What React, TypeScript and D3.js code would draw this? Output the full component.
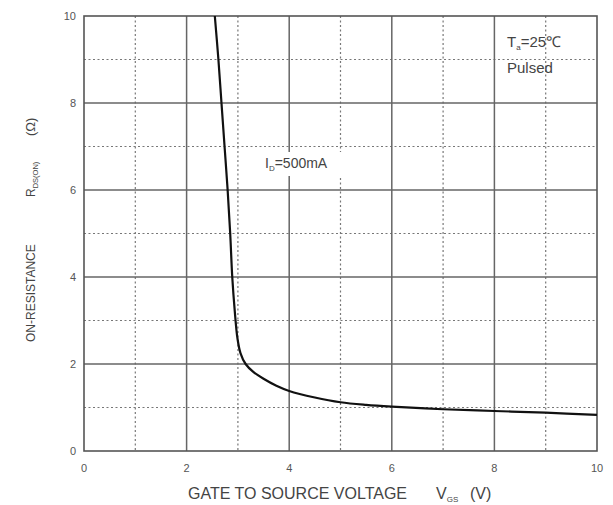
import React from "react";
import * as d3 from "d3";

const xTicks = [0, 2, 4, 6, 8, 10];
const yTicks = [0, 2, 4, 6, 8, 10];
const xMinor = [1, 3, 5, 7, 9];
const yMinor = [1, 3, 5, 7, 9];
const vgs = [2.55, 2.62, 2.68, 2.74, 2.8, 2.85, 2.89, 2.94, 2.99, 3.05, 3.15, 3.3, 3.5, 3.75, 4, 4.5, 5, 5.5, 6, 7, 8, 9, 10];
const rds = [10, 9, 8, 7, 6, 5, 4, 3.2, 2.6, 2.25, 2.0, 1.82, 1.66, 1.5, 1.38, 1.23, 1.12, 1.06, 1.02, 0.96, 0.92, 0.88, 0.83];

const W = 613, H = 505;
const L = 84, R = 597, T = 16, B = 451;

export default function App() {
  const x = d3.scaleLinear().domain([0, 10]).range([L, R]);
  const y = d3.scaleLinear().domain([0, 10]).range([B, T]);
  const pts: [number, number][] = vgs.map((v, i) => [v, rds[i]]);
  const line = d3.line<[number, number]>().x(d => x(d[0])).y(d => y(d[1])).curve(d3.curveCatmullRom.alpha(0.5));
  const font = "'Liberation Sans', Arial, sans-serif";
  const txt = "#444";
  return (
    <svg width={W} height={H} style={{ position: "absolute", left: 0, top: 0, background: "#fff" }} fontFamily={font}>
      <rect x={0} y={0} width={W} height={H} fill="#fff" />
      {xMinor.map(v => (
        <line key={"xm" + v} x1={x(v)} x2={x(v)} y1={T} y2={B} stroke="#777" strokeWidth={1.2} strokeDasharray="2,2.5" />
      ))}
      {yMinor.map(v => (
        <line key={"ym" + v} x1={L} x2={R} y1={y(v)} y2={y(v)} stroke="#777" strokeWidth={1.2} strokeDasharray="2,2.5" />
      ))}
      {xTicks.slice(1, -1).map(v => (
        <line key={"xg" + v} x1={x(v)} x2={x(v)} y1={T} y2={B} stroke="#666" strokeWidth={1.5} />
      ))}
      {yTicks.slice(1, -1).map(v => (
        <line key={"yg" + v} x1={L} x2={R} y1={y(v)} y2={y(v)} stroke="#666" strokeWidth={1.5} />
      ))}
      <rect x={L} y={T} width={R - L} height={B - T} fill="none" stroke="#555" strokeWidth={1.6} />
      <rect x={258} y={152} width={88} height={24} fill="#fff" />
      <path d={line(pts) || ""} fill="none" stroke="#111" strokeWidth={2.2} />
      {xTicks.map(v => (
        <text key={"xt" + v} x={x(v)} y={472} fontSize={11} fill="#555" textAnchor="middle">{v}</text>
      ))}
      {yTicks.map(v => (
        <text key={"yt" + v} x={76} y={y(v) + 4} fontSize={11} fill="#555" textAnchor="end">{v}</text>
      ))}
      <text x={188} y={499} fontSize={16} fill={txt}>
        GATE TO SOURCE VOLTAGE
        <tspan x={436}>V</tspan><tspan fontSize={8} dy={3}>GS</tspan>
        <tspan x={470} dy={-3}>(V)</tspan>
      </text>
      <g transform="translate(35,342) rotate(-90)">
        <text x={0} y={0} fontSize={12} fill={txt}>
          ON-RESISTANCE
          <tspan x={145}>R</tspan><tspan fontSize={7.5} dy={3}>DS(ON)</tspan>
          <tspan x={206} dy={-3} fontSize={13}>(Ω)</tspan>
        </text>
      </g>
      <text x={265} y={168} fontSize={14} fill={txt}>
        I<tspan fontSize={8} dy={3}>D</tspan><tspan dy={-3}>=500mA</tspan>
      </text>
      <text x={507} y={47} fontSize={15} fill={txt}>
        T<tspan fontSize={8} dy={3}>a</tspan><tspan dy={-3}>=25℃</tspan>
      </text>
      <text x={507} y={73} fontSize={15} fill={txt}>Pulsed</text>
    </svg>
  );
}
